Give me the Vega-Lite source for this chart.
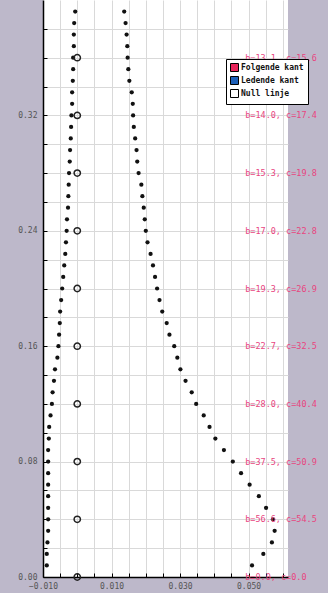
{
  "$schema": "https://vega.github.io/schema/vega-lite/v6.json",
  "autosize": {"type": "none"},
  "padding": {"left": 43, "top": 0, "right": 40, "bottom": 16},
  "width": 245,
  "height": 577,
  "background": "#bdb8ca",
  "config": {"view": {"fill": "white", "stroke": null}},
  "datasets": {
    "pts": [
      {"s": "Ledende kant", "y": 0.392, "x": -0.0006},
      {"s": "Ledende kant", "y": 0.384, "x": -0.0009},
      {"s": "Ledende kant", "y": 0.376, "x": -0.0010},
      {"s": "Ledende kant", "y": 0.368, "x": -0.0010},
      {"s": "Ledende kant", "y": 0.360, "x": -0.0012},
      {"s": "Ledende kant", "y": 0.352, "x": -0.0012},
      {"s": "Ledende kant", "y": 0.344, "x": -0.0013},
      {"s": "Ledende kant", "y": 0.336, "x": -0.0015},
      {"s": "Ledende kant", "y": 0.328, "x": -0.0015},
      {"s": "Ledende kant", "y": 0.320, "x": -0.0017},
      {"s": "Ledende kant", "y": 0.312, "x": -0.0018},
      {"s": "Ledende kant", "y": 0.304, "x": -0.0019},
      {"s": "Ledende kant", "y": 0.296, "x": -0.0021},
      {"s": "Ledende kant", "y": 0.288, "x": -0.0022},
      {"s": "Ledende kant", "y": 0.280, "x": -0.0024},
      {"s": "Ledende kant", "y": 0.272, "x": -0.0025},
      {"s": "Ledende kant", "y": 0.264, "x": -0.0026},
      {"s": "Ledende kant", "y": 0.256, "x": -0.0027},
      {"s": "Ledende kant", "y": 0.248, "x": -0.0030},
      {"s": "Ledende kant", "y": 0.240, "x": -0.0031},
      {"s": "Ledende kant", "y": 0.232, "x": -0.0033},
      {"s": "Ledende kant", "y": 0.224, "x": -0.0035},
      {"s": "Ledende kant", "y": 0.216, "x": -0.0038},
      {"s": "Ledende kant", "y": 0.208, "x": -0.0041},
      {"s": "Ledende kant", "y": 0.200, "x": -0.0044},
      {"s": "Ledende kant", "y": 0.192, "x": -0.0047},
      {"s": "Ledende kant", "y": 0.184, "x": -0.0050},
      {"s": "Ledende kant", "y": 0.176, "x": -0.0051},
      {"s": "Ledende kant", "y": 0.168, "x": -0.0053},
      {"s": "Ledende kant", "y": 0.160, "x": -0.0055},
      {"s": "Ledende kant", "y": 0.152, "x": -0.0058},
      {"s": "Ledende kant", "y": 0.144, "x": -0.0065},
      {"s": "Ledende kant", "y": 0.136, "x": -0.0068},
      {"s": "Ledende kant", "y": 0.128, "x": -0.0072},
      {"s": "Ledende kant", "y": 0.120, "x": -0.0074},
      {"s": "Ledende kant", "y": 0.112, "x": -0.0078},
      {"s": "Ledende kant", "y": 0.104, "x": -0.0082},
      {"s": "Ledende kant", "y": 0.096, "x": -0.0083},
      {"s": "Ledende kant", "y": 0.088, "x": -0.0085},
      {"s": "Ledende kant", "y": 0.080, "x": -0.0085},
      {"s": "Ledende kant", "y": 0.072, "x": -0.0085},
      {"s": "Ledende kant", "y": 0.064, "x": -0.0085},
      {"s": "Ledende kant", "y": 0.056, "x": -0.0085},
      {"s": "Ledende kant", "y": 0.048, "x": -0.0085},
      {"s": "Ledende kant", "y": 0.040, "x": -0.0085},
      {"s": "Ledende kant", "y": 0.032, "x": -0.0085},
      {"s": "Ledende kant", "y": 0.024, "x": -0.0087},
      {"s": "Ledende kant", "y": 0.016, "x": -0.0089},
      {"s": "Ledende kant", "y": 0.008, "x": -0.0089},
      {"s": "Folgende kant", "y": 0.392, "x": 0.0137},
      {"s": "Folgende kant", "y": 0.384, "x": 0.0141},
      {"s": "Folgende kant", "y": 0.376, "x": 0.0144},
      {"s": "Folgende kant", "y": 0.368, "x": 0.0146},
      {"s": "Folgende kant", "y": 0.360, "x": 0.0147},
      {"s": "Folgende kant", "y": 0.352, "x": 0.0149},
      {"s": "Folgende kant", "y": 0.344, "x": 0.0152},
      {"s": "Folgende kant", "y": 0.336, "x": 0.0159},
      {"s": "Folgende kant", "y": 0.328, "x": 0.0162},
      {"s": "Folgende kant", "y": 0.320, "x": 0.0163},
      {"s": "Folgende kant", "y": 0.312, "x": 0.0165},
      {"s": "Folgende kant", "y": 0.304, "x": 0.0169},
      {"s": "Folgende kant", "y": 0.296, "x": 0.0173},
      {"s": "Folgende kant", "y": 0.288, "x": 0.0175},
      {"s": "Folgende kant", "y": 0.280, "x": 0.0179},
      {"s": "Folgende kant", "y": 0.272, "x": 0.0187},
      {"s": "Folgende kant", "y": 0.264, "x": 0.0190},
      {"s": "Folgende kant", "y": 0.256, "x": 0.0194},
      {"s": "Folgende kant", "y": 0.248, "x": 0.0197},
      {"s": "Folgende kant", "y": 0.240, "x": 0.0200},
      {"s": "Folgende kant", "y": 0.232, "x": 0.0205},
      {"s": "Folgende kant", "y": 0.224, "x": 0.0214},
      {"s": "Folgende kant", "y": 0.216, "x": 0.0221},
      {"s": "Folgende kant", "y": 0.208, "x": 0.0227},
      {"s": "Folgende kant", "y": 0.200, "x": 0.0233},
      {"s": "Folgende kant", "y": 0.192, "x": 0.0240},
      {"s": "Folgende kant", "y": 0.184, "x": 0.0248},
      {"s": "Folgende kant", "y": 0.176, "x": 0.0261},
      {"s": "Folgende kant", "y": 0.168, "x": 0.0269},
      {"s": "Folgende kant", "y": 0.160, "x": 0.0283},
      {"s": "Folgende kant", "y": 0.152, "x": 0.0292},
      {"s": "Folgende kant", "y": 0.144, "x": 0.0301},
      {"s": "Folgende kant", "y": 0.136, "x": 0.0316},
      {"s": "Folgende kant", "y": 0.128, "x": 0.0334},
      {"s": "Folgende kant", "y": 0.120, "x": 0.0347},
      {"s": "Folgende kant", "y": 0.112, "x": 0.0369},
      {"s": "Folgende kant", "y": 0.104, "x": 0.0386},
      {"s": "Folgende kant", "y": 0.096, "x": 0.0403},
      {"s": "Folgende kant", "y": 0.088, "x": 0.0428},
      {"s": "Folgende kant", "y": 0.080, "x": 0.0454},
      {"s": "Folgende kant", "y": 0.072, "x": 0.0478},
      {"s": "Folgende kant", "y": 0.064, "x": 0.0503},
      {"s": "Folgende kant", "y": 0.056, "x": 0.0530},
      {"s": "Folgende kant", "y": 0.048, "x": 0.0551},
      {"s": "Folgende kant", "y": 0.040, "x": 0.0571},
      {"s": "Folgende kant", "y": 0.032, "x": 0.0576},
      {"s": "Folgende kant", "y": 0.024, "x": 0.0568},
      {"s": "Folgende kant", "y": 0.016, "x": 0.0543},
      {"s": "Folgende kant", "y": 0.008, "x": 0.0510}
    ],
    "nul": [
      {"s": "Null linje", "x": 0, "y": 0.00, "t": "b=0.0, c=0.0"},
      {"s": "Null linje", "x": 0, "y": 0.04, "t": "b=56.6, c=54.5"},
      {"s": "Null linje", "x": 0, "y": 0.08, "t": "b=37.5, c=50.9"},
      {"s": "Null linje", "x": 0, "y": 0.12, "t": "b=28.0, c=40.4"},
      {"s": "Null linje", "x": 0, "y": 0.16, "t": "b=22.7, c=32.5"},
      {"s": "Null linje", "x": 0, "y": 0.20, "t": "b=19.3, c=26.9"},
      {"s": "Null linje", "x": 0, "y": 0.24, "t": "b=17.0, c=22.8"},
      {"s": "Null linje", "x": 0, "y": 0.28, "t": "b=15.3, c=19.8"},
      {"s": "Null linje", "x": 0, "y": 0.32, "t": "b=14.0, c=17.4"},
      {"s": "Null linje", "x": 0, "y": 0.36, "t": "b=13.1, c=15.6"}
    ],
    "toplabel": [
      {"y": 0.40, "t": "b=12.4, c=14.2"}
    ]
  },
  "encoding": {
    "x": {
      "field": "x", "type": "quantitative",
      "scale": {"domain": [-0.01, 0.0615], "nice": false, "zero": false},
      "axis": {
        "title": null,
        "values": [-0.01, -0.005, 0, 0.005, 0.01, 0.015, 0.02, 0.025, 0.03, 0.035, 0.04, 0.045, 0.05, 0.055, 0.06],
        "labelExpr": "(round(datum.value*1000)+10)%20==0 ? format(datum.value,'.3f') : ''",
        "grid": true, "gridColor": "#d9d9d9", "gridWidth": 1,
        "domainColor": "#000", "domainWidth": 1.5,
        "tickColor": "#000", "tickSize": -4, "tickWidth": 1,
        "labelFont": "DejaVu Sans Mono", "labelFontSize": 8, "labelColor": "#555",
        "labelPadding": 9, "labelFlush": false, "labelOverlap": false
      }
    },
    "y": {
      "field": "y", "type": "quantitative",
      "scale": {"domain": [0, 0.4], "nice": false},
      "axis": {
        "title": null,
        "values": [0, 0.02, 0.04, 0.06, 0.08, 0.1, 0.12, 0.14, 0.16, 0.18, 0.2, 0.22, 0.24, 0.26, 0.28, 0.3, 0.32, 0.34, 0.36, 0.38],
        "labelExpr": "round(datum.value*100)%8==0 ? format(datum.value,'.2f') : ''",
        "grid": true, "gridColor": "#d9d9d9", "gridWidth": 1,
        "domainColor": "#000", "domainWidth": 1.5,
        "tickColor": "#000", "tickSize": -4, "tickWidth": 1,
        "labelFont": "DejaVu Sans Mono", "labelFontSize": 8, "labelColor": "#555",
        "labelPadding": 10, "labelFlush": false, "labelOverlap": false
      }
    }
  },
  "layer": [
    {
      "data": {"name": "pts"},
      "mark": {"type": "square", "opacity": 0},
      "encoding": {
        "color": {
          "field": "s", "type": "nominal",
          "scale": {"domain": ["Folgende kant", "Ledende kant", "Null linje"], "range": ["#e8245a", "#1c5fb8", "#ffffff"]},
          "legend": {
            "title": null, "orient": "none", "legendX": 183, "legendY": 59,
            "padding": 4, "strokeColor": "#000", "fillColor": "#ffffff",
            "symbolType": "square", "symbolSize": 64, "symbolOpacity": 1,
            "symbolStrokeColor": "#000", "symbolStrokeWidth": 1,
            "labelFont": "DejaVu Sans Mono", "labelFontWeight": "bold", "labelFontSize": 8,
            "labelColor": "#111", "rowPadding": 0, "labelOffset": 2
          }
        }
      }
    },
    {
      "data": {"name": "pts"},
      "mark": {"type": "circle", "color": "#111", "size": 18, "opacity": 1}
    },
    {
      "data": {"name": "nul"},
      "mark": {"type": "point", "filled": false, "stroke": "#222", "strokeWidth": 1.5, "size": 40, "opacity": 1}
    },
    {
      "data": {"name": "nul"},
      "mark": {"type": "text", "align": "left", "baseline": "middle", "font": "DejaVu Sans Mono", "fontSize": 8.5, "color": "#e8457f"},
      "encoding": {"x": {"datum": 0.049, "type": "quantitative"}, "text": {"field": "t"}}
    },
    {
      "data": {"name": "toplabel"},
      "mark": {"type": "text", "align": "left", "baseline": "middle", "font": "DejaVu Sans Mono", "fontSize": 8.5, "color": "#e8457f"},
      "encoding": {"x": {"datum": 0.049, "type": "quantitative"}, "text": {"field": "t"}}
    }
  ]
}
